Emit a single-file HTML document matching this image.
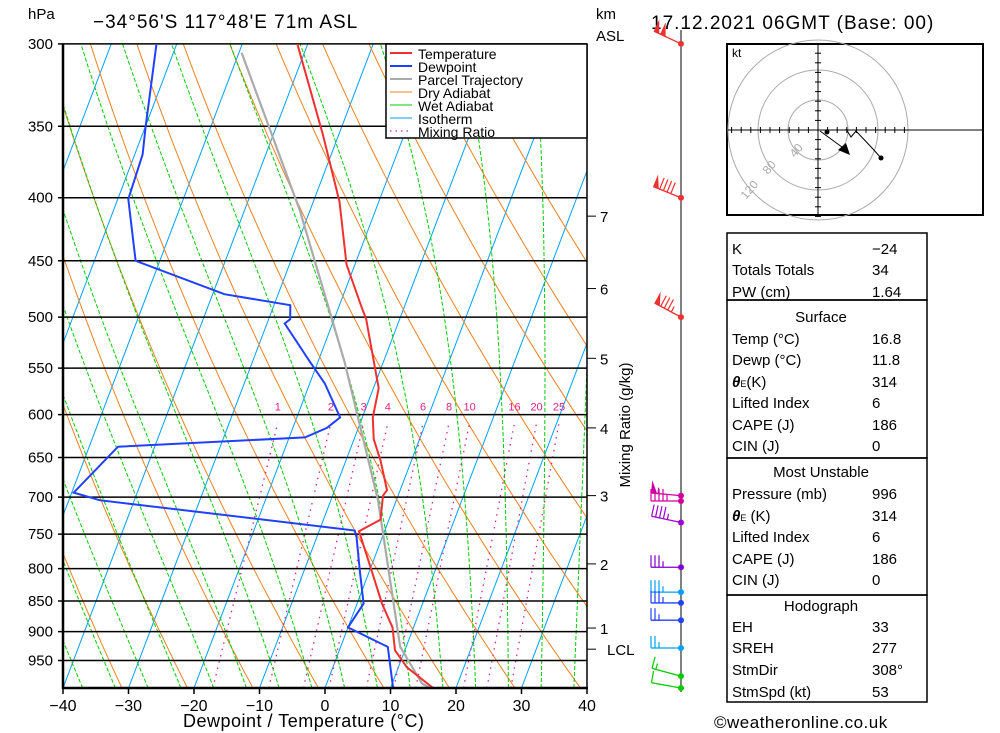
<!DOCTYPE html>
<html><head><meta charset="utf-8"><style>
body{margin:0;background:#fff;width:1000px;height:733px;overflow:hidden}
svg{display:block;font-family:"Liberation Sans",sans-serif}
</style></head><body>
<svg id="chart" width="1000" height="733" viewBox="0 0 1000 733" xmlns="http://www.w3.org/2000/svg">
<defs><clipPath id="plotclip"><rect x="63" y="44" width="524" height="644"/></clipPath></defs>
<g id="bg" clip-path="url(#plotclip)"></g>
<g id="isobars"></g>
<g id="profiles" clip-path="url(#plotclip)"></g>
<g id="axes"></g>
<text x="93" y="28" font-size="19" letter-spacing="1">−34°56'S 117°48'E 71m ASL</text>
<text x="28" y="19" font-size="15">hPa</text>
<text x="596" y="19" font-size="15">km</text>
<text x="596" y="41" font-size="15">ASL</text>
<text x="651" y="29" font-size="19" letter-spacing="1">17.12.2021 06GMT (Base: 00)</text>
<text x="183" y="727" font-size="18" letter-spacing="0.5">Dewpoint / Temperature (°C)</text>
<text transform="translate(630,425) rotate(-90)" text-anchor="middle" font-size="15">Mixing Ratio (g/kg)</text>
<text x="714" y="728" font-size="17" letter-spacing="0.5">©weatheronline.co.uk</text>
<g>
<rect x="386" y="44" width="201" height="94" fill="#fff" stroke="#000" stroke-width="1.5"/>
<line x1="390" y1="53" x2="412" y2="53" stroke="#f03030" stroke-width="2"/><text x="418" y="59" font-size="14">Temperature</text>
<line x1="390" y1="66" x2="412" y2="66" stroke="#2040ff" stroke-width="2"/><text x="418" y="72" font-size="14">Dewpoint</text>
<line x1="390" y1="79" x2="412" y2="79" stroke="#aaa" stroke-width="2"/><text x="418" y="85" font-size="14">Parcel Trajectory</text>
<line x1="390" y1="92" x2="412" y2="92" stroke="#f08020" stroke-width="1"/><text x="418" y="98" font-size="14">Dry Adiabat</text>
<line x1="390" y1="105" x2="412" y2="105" stroke="#00cc00" stroke-width="1"/><text x="418" y="111" font-size="14">Wet Adiabat</text>
<line x1="390" y1="118" x2="412" y2="118" stroke="#00a0ff" stroke-width="1"/><text x="418" y="124" font-size="14">Isotherm</text>
<line x1="390" y1="131" x2="412" y2="131" stroke="#e0208a" stroke-width="1.2" stroke-dasharray="1.5,4"/><text x="418" y="137" font-size="14">Mixing Ratio</text>
</g>
<g id="winds"></g>
<g>
<rect x="727" y="44" width="256" height="171" fill="#fff" stroke="#000" stroke-width="2"/>
<g fill="none" stroke="#aaa" stroke-width="1"><circle cx="818" cy="130" r="30"/><circle cx="818" cy="130" r="60"/><circle cx="818" cy="130" r="90"/></g>
<line x1="818" y1="45" x2="818" y2="214" stroke="#000"/><line x1="728" y1="130" x2="982" y2="130" stroke="#000"/>
<g id="hodoticks" stroke="#000"></g>
<text x="732" y="57" font-size="12">kt</text>
<text transform="translate(795,158) rotate(-50)" font-size="12" fill="#aaa">40</text>
<text transform="translate(768,175) rotate(-50)" font-size="12" fill="#aaa">80</text>
<text transform="translate(746,200) rotate(-50)" font-size="12" fill="#aaa">120</text>
<polyline points="820,131 846,150" fill="none" stroke="#000"/>
<polygon points="850,155 838,150 846,143" fill="#000"/>
<circle cx="827" cy="132" r="2.5" fill="#000"/>
<polyline points="846,129 851,137 856,131 873,149 881,158" fill="none" stroke="#000"/>
<circle cx="881" cy="158" r="2.5" fill="#000"/>
</g>
<g id="tables" font-size="15">
<rect x="727" y="233" width="200" height="67" fill="none" stroke="#000" stroke-width="1.5"/>
<rect x="727" y="300" width="200" height="158" fill="none" stroke="#000" stroke-width="1.5"/>
<rect x="727" y="458" width="200" height="137" fill="none" stroke="#000" stroke-width="1.5"/>
<rect x="727" y="595" width="200" height="107" fill="none" stroke="#000" stroke-width="1.5"/>
</g>
</svg>
<script>
// ---- data ----
const tempP=[1000,962,932,893,854,803,746,730,698,691,654,628,603,571,543,502,490,453,403,355,300];
const tempT=[16.5,11.3,8.5,6.8,3.8,0.3,-3.9,-1.3,-2.3,-2.0,-4.7,-7.0,-8.4,-9.2,-11.5,-15.1,-16.6,-21.3,-26.0,-32.5,-41.6];
const dewP=[1000,926,893,854,803,755,745,704,694,637,626,615,603,566,543,506,502,489,479,450,401,369,351,300];
const dewT=[10.4,7.2,0.0,1.0,-1.5,-3.9,-4.6,-45.3,-49.7,-45.6,-17.6,-14.8,-13.4,-17.7,-21.3,-27.3,-26.7,-27.5,-38.2,-53.7,-58.4,-58.8,-59.9,-63.1];
const parcelP=[1000,991,926,704,543,410,305];
const parcelT=[16.0,14.5,9.1,-2.8,-16.0,-31.5,-49.6];
const isobarLevels=[300,350,400,450,500,550,600,650,700,750,800,850,900,950];
const tempTicks=[-40,-30,-20,-10,0,10,20,30,40];
const mixRatios=[1,2,3,4,6,8,10,16,20,25];
const kmLabels=["7","6","5","4","3","2","1","LCL"];
const kmPress=[414,474,540,615,698,793,894,930];
const windP=[300,400,500,698,705,734,798,836,853,881,928,978,1000];
const windDir=[295,292,298,275,270,282,270,270,270,270,270,285,280];
const windSpd=[100,90,85,55,45,45,35,35,35,25,25,15,10];
const windCol=["#f03030","#f03030","#f03030","#d000a0","#d000a0","#a000d0","#8000d0","#00a0ff","#2040ff","#2040ff","#00a0ff","#00cc00","#00cc00"];
const tableRows=[["K","−24",254],["Totals Totals","34",275],["PW (cm)","1.64",297],
["Temp (°C)","16.8",344],["Dewp (°C)","11.8",365],["θE(K)","314",387],["Lifted Index","6",408],["CAPE (J)","186",430],["CIN (J)","0",451],
["Pressure (mb)","996",499],["θE (K)","314",521],["Lifted Index","6",542],["CAPE (J)","186",564],["CIN (J)","0",585],
["EH","33",632],["SREH","277",653],["StmDir","308°",675],["StmSpd (kt)","53",697]];
const tableHeads=[["Surface",322],["Most Unstable",477],["Hodograph",611]];
// ---- axes ----
const NS="http://www.w3.org/2000/svg";
const X0=63,PX=6.55,YB=688,PY=1232,SK=0.38;
function yP(p){return YB-PY*Math.log10(1000/p);}
function xT(t,p){return X0+(t+40)*PX+(YB-yP(p))*SK;}
function mk(tag,attrs,parent){const e=document.createElementNS(NS,tag);for(const k in attrs)e.setAttribute(k,attrs[k]);parent.appendChild(e);return e;}
const bg=document.getElementById('bg');
for(let t=-140;t<=40;t+=10){
 const l=mk('line',{x1:xT(t,1000),y1:yP(1000),x2:xT(t,300),y2:yP(300),stroke:'#00a0ff','stroke-width':1},bg);
 
 
}
for(let t0=-121;t0<=90;t0+=10){
 const th=t0+273.15;let pts=[];
 for(let p=1000;p>=295;p-=10){const T=th*Math.pow(p/1000,0.286)-273.15;pts.push(xT(T,p).toFixed(1)+','+yP(p).toFixed(1));}
 const l=mk('polyline',{points:pts.join(' '),fill:'none',stroke:'#f08020','stroke-width':1},bg);
 
 
}
function es(T){return 6.112*Math.exp(17.67*T/(T+243.5));}
for(let t0=-42;t0<=43;t0+=5){
 let T=t0,pts=[];
 for(let p=1000;p>=295;p-=2){
  if(p%10===0)pts.push(xT(T,p).toFixed(1)+','+yP(p).toFixed(1));
  const Tk=T+273.15,e=es(T),rs=0.622*e/(p-e);
  const d=(287*Tk+2.5e6*rs)/(p*(1005+2.5e6*2.5e6*rs*0.622/(287*Tk*Tk)));
  T-=d*2;
 }
 const l=mk('polyline',{points:pts.join(' '),fill:'none',stroke:'#00cc00','stroke-width':1,'stroke-dasharray':'4,2'},bg);
 
 
}
function tdFromW(w,p){const e=w*p/(622+w);const a=Math.log(e/6.112);return 243.5*a/(17.67-a);}
mixRatios.forEach(w=>{
 const l=mk('line',{x1:xT(tdFromW(w,1000),1000),y1:yP(1000),x2:xT(tdFromW(w,600),600),y2:yP(600)+8,stroke:'#e0208a','stroke-width':1.3,'stroke-dasharray':'1.5,5'},bg);
 
 
 const t=mk('text',{x:xT(tdFromW(w,600),600),y:yP(600)-4,'font-size':11,fill:'#e0208a','text-anchor':'middle'},document.getElementById('profiles'));
 t.textContent=w;
 
 
});
const ib=document.getElementById('isobars'),ax=document.getElementById('axes');
isobarLevels.forEach(p=>{
 const l=mk('line',{x1:X0-5,y1:yP(p),x2:587,y2:yP(p),stroke:'#000','stroke-width':1.5},ib);
 
 
 const t=mk('text',{x:53,y:yP(p)+5,'font-size':15,'text-anchor':'end'},ax);
 t.textContent=p;
 
 
});
mk('line',{x1:X0,y1:44,x2:X0,y2:689,stroke:'#000','stroke-width':2.5},ax);
mk('line',{x1:X0-1,y1:688,x2:588,y2:688,stroke:'#000','stroke-width':2.5},ax);
mk('line',{x1:587,y1:44,x2:587,y2:689,stroke:'#000','stroke-width':1.5},ax);
tempTicks.forEach(t=>{
 const x=X0+(t+40)*PX;
 mk('line',{x1:x,y1:688,x2:x,y2:694,stroke:'#000','stroke-width':1.5},ax);
 const tx=mk('text',{x:x,y:711,'font-size':16,'text-anchor':'middle'},ax);
 tx.textContent=t<0?'−'+(-t):t;
 
 
});
kmLabels.forEach((k,i)=>{
 const y=yP(kmPress[i]);
 mk('line',{x1:587,y1:y,x2:596,y2:y,stroke:'#000','stroke-width':1},ax);
 const t=mk('text',{x:k==='LCL'?607:600,y:y+6,'font-size':15},ax);
 t.textContent=k;
 
 
});
const pr=document.getElementById('profiles');
function line(P,T,col,w,name){
 const pts=P.map((p,i)=>xT(T[i],p).toFixed(1)+','+yP(p).toFixed(1)).join(' ');
 const l=mk('polyline',{points:pts,fill:'none',stroke:col,'stroke-width':w},pr);
 
 
}
line(parcelP,parcelT,'#aaa',2.2,'parcel-trajectory');
line(dewP,dewT,'#2040ff',2,'dewpoint-line');
line(tempP,tempT,'#f03030',2,'temperature-line');
const wg=document.getElementById('winds');
mk('line',{x1:681,y1:30,x2:681,y2:692,stroke:'#000','stroke-width':1},wg);
windP.forEach((p,i)=>{
 const y=yP(p),x=681,c=windCol[i];
 const a=(windDir[i]-270)*Math.PI/180;
 const dx=-Math.cos(a),dy=-Math.sin(a);
 const L=30,ex=x+dx*L,ey=y+dy*L;
 const g=mk('g',{},wg);
 
 
 mk('line',{x1:x,y1:y,x2:ex,y2:ey,stroke:c,'stroke-width':1.3},g);
 mk('circle',{cx:x,cy:y,r:3,fill:c},g);
 let s=windSpd[i],pos=0;
 const px=-dy,py=dx;
 const ux=px*(py<0?1:-1),uy=py*(py<0?1:-1);
 while(s>=50){const bx=ex-dx*pos,by=ey-dy*pos;
  mk('polygon',{points:`${bx},${by} ${bx+ux*13},${by+uy*13} ${bx-dx*6},${by-dy*6}`,fill:c},g);pos+=7;s-=50;}
 while(s>=10){const bx=ex-dx*pos,by=ey-dy*pos;
  mk('line',{x1:bx,y1:by,x2:bx+ux*12,y2:by+uy*12,stroke:c,'stroke-width':1.2},g);pos+=4;s-=10;}
 if(s>=5){const bx=ex-dx*pos,by=ey-dy*pos;
  mk('line',{x1:bx,y1:by,x2:bx+ux*6,y2:by+uy*6,stroke:c,'stroke-width':1.2},g);}
});
const ht=document.getElementById('hodoticks');
for(let k=-9;k<=9;k++){if(k===0)continue;const d=k*9.6;
 mk('line',{x1:818+d,y1:127,x2:818+d,y2:133},ht);mk('line',{x1:815,y1:130+d,x2:821,y2:130+d},ht);}
const tb=document.getElementById('tables');
tableRows.forEach(r=>{
 const a=mk('text',{x:732,y:r[2]},tb);
 if(r[0].startsWith('θE')){a.innerHTML='<tspan font-weight="bold" font-style="italic">θ</tspan><tspan font-size="9">E</tspan>'+r[0].slice(2);}
 else a.textContent=r[0];
 
 
 const b=mk('text',{x:872,y:r[2]},tb);
 b.textContent=r[1];
 
 
});
tableHeads.forEach(h=>{
 const t=mk('text',{x:821,y:h[1],'text-anchor':'middle'},tb);
 t.textContent=h[0];
 
 
});
</script>
</body></html>
